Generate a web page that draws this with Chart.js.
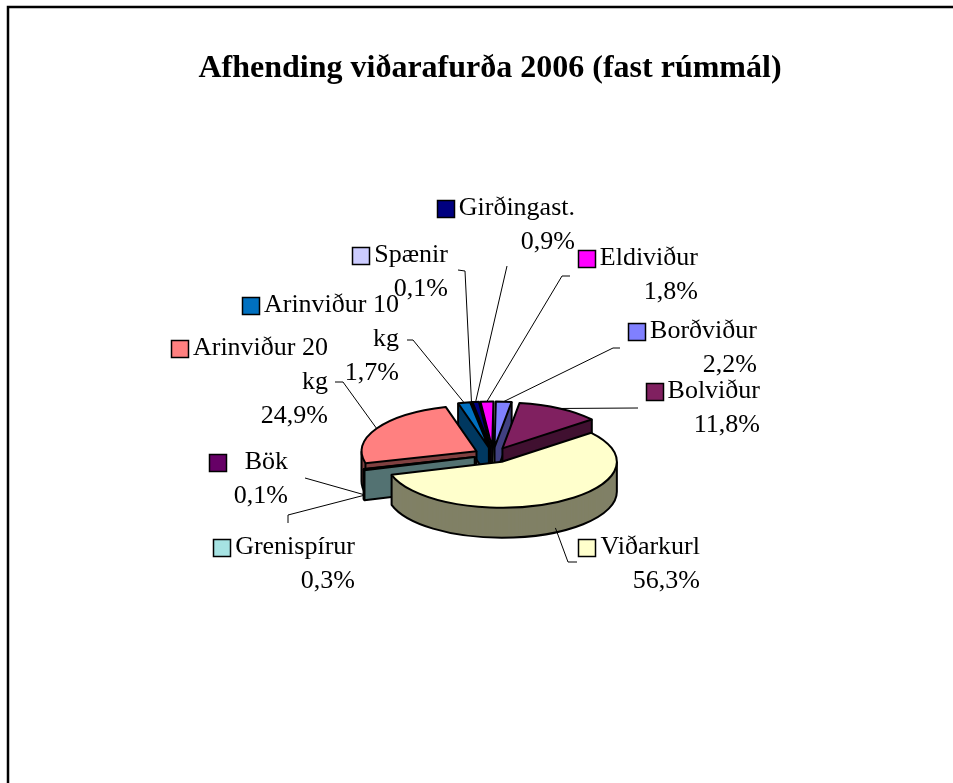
<!DOCTYPE html>
<html>
<head>
<meta charset="utf-8">
<script src="https://cdn.jsdelivr.net/npm/chart.js@4.4.1/dist/chart.umd.min.js"></script>
<style>
html,body{margin:0;padding:0;background:#fff;}
#wrap{position:relative;width:953px;height:783px;}
canvas{display:block;}
</style>
</head>
<body>
<div id="wrap"><canvas id="c" width="953" height="783"></canvas></div>
<script>
// ---- data ----
const categories = ["Viðarkurl","Grenispírur","Bök","Arinviður 20 kg","Arinviður 10 kg","Spænir","Girðingast.","Eldiviður","Borðviður","Bolviður"];
const shares = [56.3, 0.3, 0.1, 24.9, 1.7, 0.1, 0.9, 1.8, 2.2, 11.8];
const chartTitle = "Afhending viðarafurða 2006 (fast rúmmál)";

// ---- styles ----
const sliceColors = ["#FFFFCC","#A6E3E3","#660066","#FF8080","#0070C0","#CCCCFF","#000080","#FF00FF","#8080FF","#802060"];
const PIE = {R:115, K:0.4, OFF:19, DEPTH:30, DX:3};
const LABEL_FS = 26, LABEL_LH = 34, SQ = 17;

// label layout (text right edge, first line centre, leader line points near label)
const labelLayout = {
  "Viðarkurl":       {right:700, y:547, lead:[[577,562],[568,562]]},
  "Grenispírur":     {right:355, y:547, lead:[[288,523],[288,515]]},
  "Bök":             {right:288, y:462, lead:[[305,478]], gap:19},
  "Arinviður 20 kg": {right:328, y:348, lead:[[335,382],[343,382]]},
  "Arinviður 10 kg": {right:399, y:305, lead:[[407,340],[413,340]]},
  "Spænir":          {right:448, y:255, lead:[[458,270],[465,271]]},
  "Girðingast.":     {right:575, y:208, lead:[[507,266]]},
  "Eldiviður":       {right:698, y:258, lead:[[570,276],[562,276]]},
  "Borðviður":       {right:757, y:331, lead:[[620,348],[613,348]]},
  "Bolviður":        {right:760, y:391, lead:[[638,408]]}
};

function shade(hex, f){
  const n = parseInt(hex.slice(1),16);
  const r=(n>>16)&255, g=(n>>8)&255, b=n&255;
  return `rgb(${Math.round(r*f)},${Math.round(g*f)},${Math.round(b*f)})`;
}
function fmt(v){ return v.toFixed(1).replace('.', ',') + '%'; }

function pt(a, th, z, rho){
  if (rho === undefined) rho = a.r;
  return [a.x + PIE.DX + a.ox + rho*Math.cos(th), a.y + PIE.K*(a.oy + rho*Math.sin(th)) + z];
}
function libFill(ctx, a, z, color){
  ctx.save();
  ctx.translate(a.x + PIE.DX, a.y + z);
  ctx.scale(1, PIE.K);
  ctx.translate(-a.x, -a.y);
  ctx.translate(a.ox, a.oy);
  const p = Object.create(a.el);
  p.options = Object.assign({}, a.el.options, {backgroundColor: color, borderWidth: 0, offset: 0, spacing: 0});
  p.draw(ctx);
  ctx.restore();
}
function visibleFaces(a){
  const f = [];
  if (Math.cos(a.s) < 0) f.push(a.s);
  if (Math.cos(a.e) > 0) f.push(a.e);
  return f;
}
function fillFaces(ctx, a, color){
  const D = PIE.DEPTH;
  const T0 = pt(a,0,0,0), T1 = pt(a,0,D,0);
  ctx.fillStyle = color;
  visibleFaces(a).forEach(th=>{
    const P0 = pt(a,th,0), P1 = pt(a,th,D);
    ctx.beginPath();
    ctx.moveTo(T0[0],T0[1]); ctx.lineTo(T1[0],T1[1]); ctx.lineTo(P1[0],P1[1]); ctx.lineTo(P0[0],P0[1]);
    ctx.closePath(); ctx.fill();
  });
}
function strokeSides(ctx, a){
  const D = PIE.DEPTH;
  const c = pt(a,0,0,0);
  ctx.beginPath();
  for (let k=-2;k<=2;k++){
    const u = Math.max(a.s, 2*Math.PI*k), v = Math.min(a.e, 2*Math.PI*k + Math.PI);
    if (v > u){
      let p = pt(a,u,0); ctx.moveTo(p[0],p[1]);
      p = pt(a,u,D); ctx.lineTo(p[0],p[1]);
      ctx.ellipse(c[0], c[1] + D, a.r, a.r*PIE.K, 0, u, v);
      p = pt(a,v,0); ctx.lineTo(p[0],p[1]);
    }
  }
  const T0 = pt(a,0,0,0), T1 = pt(a,0,D,0);
  visibleFaces(a).forEach(th=>{
    const P0 = pt(a,th,0), P1 = pt(a,th,D);
    ctx.moveTo(T0[0],T0[1]); ctx.lineTo(T1[0],T1[1]); ctx.lineTo(P1[0],P1[1]); ctx.lineTo(P0[0],P0[1]);
  });
  ctx.stroke();
}
function strokeTop(ctx, a){
  const T0 = pt(a,0,0,0), P0 = pt(a,a.s,0);
  ctx.beginPath();
  ctx.moveTo(T0[0],T0[1]);
  ctx.lineTo(P0[0],P0[1]);
  ctx.ellipse(T0[0], T0[1], a.r, a.r*PIE.K, 0, a.s, a.e);
  ctx.closePath();
  ctx.stroke();
}

const pie3d = {
  id:'pie3d',
  beforeDraw(chart){
    const ctx = chart.ctx;
    ctx.save();
    ctx.fillStyle = '#fff';
    ctx.fillRect(0,0,chart.width,chart.height);
    ctx.strokeStyle = '#000';
    ctx.lineWidth = 2.5;
    ctx.beginPath();
    ctx.moveTo(8, chart.height); ctx.lineTo(8, 7); ctx.lineTo(chart.width, 7);
    ctx.stroke();
    ctx.restore();
  },
  beforeDatasetsDraw(chart){
    const ctx = chart.ctx;
    const meta = chart.getDatasetMeta(0);
    const slices = meta.data.map((el,i)=>{
      const s = el.startAngle, e = el.endAngle, m = (s+e)/2;
      return {el, i, s, e, m, x:el.x, y:el.y, r:el.outerRadius, ox:PIE.OFF*Math.cos(m), oy:PIE.OFF*Math.sin(m)};
    });
    chart.$slices = slices;
    const order = slices.slice().sort((a,b)=>Math.sin(a.m)-Math.sin(b.m));
    ctx.save();
    ctx.lineJoin = 'round';
    for (const a of order){
      const side = shade(sliceColors[a.i], 0.5);
      for (let z = PIE.DEPTH; z >= 0.5; z -= 0.5) libFill(ctx, a, z, side);
      fillFaces(ctx, a, side);
      ctx.strokeStyle = '#000'; ctx.lineWidth = 2;
      strokeSides(ctx, a);
      libFill(ctx, a, 0, sliceColors[a.i]);
      ctx.strokeStyle = '#000'; ctx.lineWidth = 2;
      strokeTop(ctx, a);
    }
    ctx.restore();
    return false;
  },
  afterDraw(chart){
    const ctx = chart.ctx, slices = chart.$slices;
    if (!slices) return;
    ctx.save();
    ctx.font = `${LABEL_FS}px "Liberation Serif"`;
    ctx.textBaseline = 'middle';
    slices.forEach(a=>{
      const name = categories[a.i];
      const L = labelLayout[name];
      const front = Math.sin(a.m) > 0;
      const anc = pt(a, a.m, front ? PIE.DEPTH*0.85 : 0);
      ctx.beginPath();
      ctx.moveTo(L.lead[0][0], L.lead[0][1]);
      for (let j=1;j<L.lead.length;j++) ctx.lineTo(L.lead[j][0], L.lead[j][1]);
      ctx.lineTo(anc[0], anc[1]);
      ctx.lineWidth = 1; ctx.strokeStyle = '#000'; ctx.stroke();

      let lines = [name];
      if (ctx.measureText(name).width > 140){
        const w = name.split(' ');
        lines = [w.slice(0,-1).join(' '), w[w.length-1]];
      }
      lines.push(fmt(shares[a.i]));
      ctx.textAlign = 'right'; ctx.fillStyle = '#000';
      lines.forEach((t,j)=>ctx.fillText(t, L.right, L.y + j*LABEL_LH));
      const tw = ctx.measureText(lines[0]).width;
      const gap = L.gap || 5;
      const sx = Math.round(L.right - tw - gap - SQ) + 0.5, sy = Math.round(L.y - SQ/2) + 0.5;
      ctx.fillStyle = sliceColors[a.i];
      ctx.fillRect(sx, sy, SQ, SQ);
      ctx.lineWidth = 1.5; ctx.strokeStyle = '#000';
      ctx.strokeRect(sx, sy, SQ, SQ);
    });
    ctx.restore();
  }
};

new Chart(document.getElementById('c'), {
  type:'pie',
  data:{
    labels: categories,
    datasets:[{data: shares, backgroundColor: sliceColors, borderWidth: 0, radius: PIE.R}]
  },
  options:{
    responsive:false,
    animation:false,
    events:[],
    rotation:51,
    layout:{padding:{top:18,left:35,right:8,bottom:51.4}},
    plugins:{
      legend:{display:false},
      tooltip:{enabled:false},
      title:{display:true, text: chartTitle, color:'#000',
        font:{family:'"Liberation Serif"', size:32, weight:'bold'},
        padding:{top:32,bottom:90}}
    }
  },
  plugins:[pie3d]
});
</script>
</body>
</html>
